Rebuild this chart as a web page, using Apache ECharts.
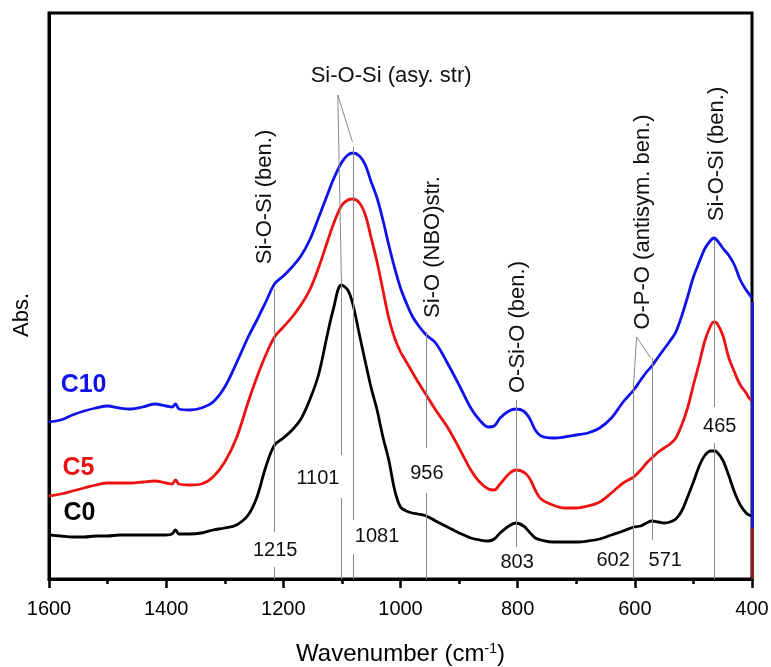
<!DOCTYPE html>
<html>
<head>
<meta charset="utf-8">
<script src="https://cdn.jsdelivr.net/npm/echarts@6/dist/echarts.min.js"></script>
<style>
html,body{margin:0;padding:0;background:#fff;}
#chart{width:771px;height:667px;}
</style>
</head>
<body>
<div id="chart"></div>
<script>
// Wavenumbers (cm-1) at which the three spectra were read
var wavenumbers = [1600,1580,1560,1540,1520,1500,1480,1460,1440,1420,1400,1390,1384,1378,1360,1340,1320,1300,1280,1260,1245,1230,1215,1200,1185,1170,1155,1140,1125,1115,1101,1090,1081,1070,1060,1050,1040,1030,1020,1010,1000,990,980,970,956,940,920,900,880,865,850,840,830,815,803,790,780,770,760,740,720,700,680,660,640,620,602,590,580,571,560,550,540,530,520,510,500,490,480,470,465,460,450,440,430,420,410,405,400];

// Absorbance (arbitrary units, offset stacked)
var c0 = [44,43,42,42,43,43,44,44,44,44,44,45,49,45,45,46,49,51,54,64,82,112,134,141,149,160,179,204,244,269,294,289,274,244,217,191,169,142,119,89,72,68,66,65,63,58,52,46,41,39,38,40,46,53,56,53,47,41,39,37,37,37,38,40,44,48,52,53,56,58,57,56,57,60,68,82,97,113,124,128,128,127,119,104,87,74,66,64,63];
var c5 = [83,85,88,91,94,96,96,96,97,98,96,95,99,95,94,95,102,117,141,177,202,224,242,252,262,274,289,311,337,354,373,379,380,376,364,341,317,289,261,241,227,217,207,197,184,169,152,131,109,97,90,89,95,105,109,107,101,89,80,74,71,71,73,77,86,96,102,109,116,121,127,131,135,141,154,171,194,216,239,254,257,256,244,222,207,194,186,181,178];
var c10 = [157,159,164,168,171,173,171,170,172,175,173,172,175,170,169,171,177,192,216,242,259,277,295,303,312,323,339,361,384,399,416,424,426,423,414,397,381,359,334,311,291,276,263,254,244,236,216,194,171,159,152,153,161,168,170,168,161,149,143,141,142,144,146,151,161,177,189,199,207,213,222,230,238,247,263,282,302,317,331,339,341,339,331,324,314,299,289,285,281];

// Band assignments and peak annotations
var bandPeaks = [1215, 1101, 1081, 956, 803, 602, 571, 465];
var bandNames = ['Si-O-Si (ben.)', 'Si-O-Si (asy. str)', 'Si-O (NBO)str.', 'O-Si-O (ben.)', 'O-P-O (antisym. ben.)', 'Si-O-Si (ben.)'];
var seriesNames = ['C0', 'C5', 'C10'];

// guide-line segments [wavenumber, from, to] in absorbance units
var guideSegments = [
  [1215, 290, 47], [1215, 12, 0],
  [1101, 302, 124], [1101, 81, 0],
  [1081, 432, 59], [1081, 25, 0],
  [956, 247, 131], [956, 86, 0],
  [803, 179, 32],
  [602, 196, 0],
  [571, 221, 39],
  [465, 339, 172], [465, 136, 0]
];
// leader lines [[x1,y1],[x2,y2]]
var leaders = [
  [[1107, 484], [1101, 302]],
  [[1107, 484], [1082, 437]],
  [[597, 242], [602, 196]],
  [[597, 242], [573, 221]]
];
// band label anchors [wavenumber, absorbance]
var bandLabelPos = [[1231, 382], [1016, 503], [944, 332], [799, 252], [586, 357], [460, 425]];
var bandLabelRot = [90, 0, 90, 90, 90, 90];
// peak number label anchors
var peakLabelPos = [[1214, 29], [1141, 101], [1040, 43], [955, 106], [801, 17], [637, 19], [548, 19], [455, 153]];
// series name label anchors (left edge)
var seriesLabelPos = [[1576, 66], [1578, 111], [1581, 194]];

var colors = ['#000000', '#ee1111', '#1111ee'];
var FONT = 'Liberation Sans, Arial, sans-serif';

function pairs(ys) { return wavenumbers.map(function (w, i) { return [w, ys[i]]; }); }

var segData = guideSegments.map(function (s) { return [{coord: [s[0], s[1]]}, {coord: [s[0], s[2]]}]; });
leaders.forEach(function (l) { segData.push([{coord: l[0]}, {coord: l[1]}]); });

var bandLabelData = bandNames.map(function (n, i) {
  return {value: [bandLabelPos[i][0], bandLabelPos[i][1]], name: n, label: {rotate: bandLabelRot[i]}};
});
var peakLabelData = bandPeaks.map(function (p, i) { return {value: peakLabelPos[i], name: String(p)}; });
var seriesLabelData = seriesNames.map(function (n, i) { return {value: seriesLabelPos[i], name: n, label: {color: colors[i]}}; });

function labelSeries(name, data, label) {
  return {type: 'scatter', name: name, data: data, symbol: 'circle', symbolSize: 1,
    itemStyle: {color: 'rgba(0,0,0,0)', opacity: 1}, silent: true, z: 5,
    emphasis: {disabled: true},
    label: label};
}

var chart = echarts.init(document.getElementById('chart'), null, {renderer: 'canvas'});
chart.setOption({
  animation: false,
  backgroundColor: '#ffffff',
  grid: {left: 49, right: 19, top: 13, bottom: 88, containLabel: false, outerBoundsMode: 'none',
    show: true, borderColor: '#000', borderWidth: 3, backgroundColor: 'transparent'},
  xAxis: {
    type: 'value', min: 400, max: 1600, interval: 200, inverse: true,
    axisLine: {show: true, onZero: false, lineStyle: {color: '#000', width: 3}},
    axisTick: {show: true, inside: false, length: 9, lineStyle: {color: '#000', width: 2.5}},
    minorTick: {show: true, splitNumber: 2, length: 5, lineStyle: {color: '#000', width: 2.5}},
    splitLine: {show: false},
    axisLabel: {fontSize: 20, color: '#000', margin: 20, fontFamily: FONT,
      formatter: function (v) { return String(v); }},
    name: 'Wavenumber (cm{sup|-1})', nameLocation: 'middle', nameGap: 63,
    nameTextStyle: {fontSize: 24, color: '#000', fontFamily: FONT,
      rich: {sup: {fontSize: 14, verticalAlign: 'top', fontFamily: FONT, color: '#000'}}}
  },
  yAxis: {
    type: 'value', min: 0, max: 566,
    axisLine: {show: true, onZero: false, lineStyle: {color: '#000', width: 3}},
    axisTick: {show: false}, axisLabel: {show: false}, splitLine: {show: false},
    name: 'Abs.', nameLocation: 'middle', nameGap: 16, nameRotate: 90,
    nameTextStyle: {fontSize: 22, color: '#000', fontFamily: FONT, padding: [0, 38, 0, 0]}
  },
  series: [
    {type: 'line', name: 'guides', data: [], silent: true, z: 1,
      markLine: {silent: true, symbol: 'none', animation: false, label: {show: false},
        lineStyle: {color: '#8a8a8a', width: 1, type: 'solid'}, data: segData}},
    {type: 'line', name: 'edge', data: [], silent: true, z: 4,
      markLine: {silent: true, symbol: 'none', animation: false, label: {show: false},
        data: [
          [{coord: [400, 277], lineStyle: {color: '#1a1ad0', width: 3, type: 'solid'}}, {coord: [400, 51]}],
          [{coord: [400, 51], lineStyle: {color: '#8b1a1a', width: 3, type: 'solid'}}, {coord: [400, 0]}]
        ]}},
    {type: 'line', name: seriesNames[0], data: pairs(c0), showSymbol: false, smooth: 0.35, z: 3,
      lineStyle: {color: colors[0], width: 2.8}, itemStyle: {color: colors[0]}},
    {type: 'line', name: seriesNames[1], data: pairs(c5), showSymbol: false, smooth: 0.35, z: 3,
      lineStyle: {color: colors[1], width: 2.8}, itemStyle: {color: colors[1]}},
    {type: 'line', name: seriesNames[2], data: pairs(c10), showSymbol: false, smooth: 0.35, z: 3,
      lineStyle: {color: colors[2], width: 2.8}, itemStyle: {color: colors[2]}},
    labelSeries('bandLabels', bandLabelData,
      {show: true, position: 'inside', formatter: '{b}', fontSize: 22, color: '#111', fontFamily: FONT}),
    labelSeries('peakLabels', peakLabelData,
      {show: true, position: 'inside', formatter: '{b}', fontSize: 20, color: '#111', fontFamily: FONT}),
    labelSeries('seriesLabels', seriesLabelData,
      {show: true, position: 'right', distance: 0, formatter: '{b}', fontSize: 25, fontWeight: 'bold', fontFamily: FONT})
  ]
});
</script>
</body>
</html>
